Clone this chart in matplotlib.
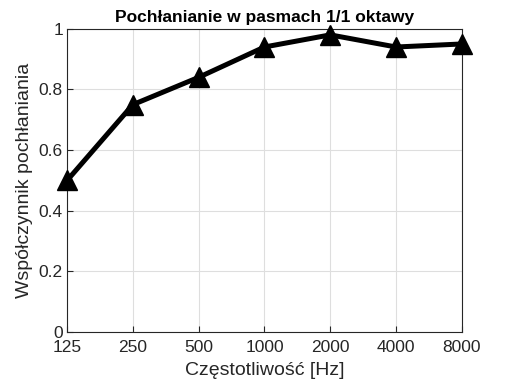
import matplotlib
matplotlib.use('Agg')
import matplotlib.pyplot as plt

plt.rcParams['font.family'] = ['Liberation Sans', 'DejaVu Sans']

# Dane: pochłanianie w pasmach oktawowych
czestotliwosci = [125, 250, 500, 1000, 2000, 4000, 8000]
etykiety = ['125', '250', '500', '1000', '2000', '4000', '8000']
wspolczynnik = [0.50, 0.75, 0.84, 0.94, 0.98, 0.94, 0.95]

fig = plt.figure(figsize=(5.12, 3.84), dpi=100)
ax = fig.add_axes([0.131, 0.135, 0.771, 0.79])

ax.semilogx(czestotliwosci, wspolczynnik, color='black', linewidth=3.6,
            marker='^', markersize=15, clip_on=False, zorder=3)

ax.set_xlim(125, 8000)
ax.set_ylim(0, 1)
ax.set_xticks(czestotliwosci)
ax.set_xticklabels(etykiety)
ax.minorticks_off()
ax.set_yticks([0, 0.2, 0.4, 0.6, 0.8, 1])
ax.set_yticklabels(['0', '0.2', '0.4', '0.6', '0.8', '1'])
ax.tick_params(direction='in', labelsize=12.5, colors='#262626', length=4,
               labelcolor='#262626')
ax.tick_params(axis='x', pad=6)
ax.tick_params(axis='y', pad=3)
ax.grid(True, color='#dedede', linewidth=0.8)
for s in ax.spines.values():
    s.set_color('#262626')
    s.set_linewidth(0.8)

ax.set_title('Pochłanianie w pasmach 1/1 oktawy', fontsize=12.5,
             fontweight='bold', pad=5)
ax.set_xlabel('Częstotliwość [Hz]', fontsize=14, color='#262626', labelpad=5)
ax.set_ylabel('Współczynnik pochłaniania', fontsize=14, color='#262626',
              labelpad=4)

fig.savefig('out.png', dpi=100)
